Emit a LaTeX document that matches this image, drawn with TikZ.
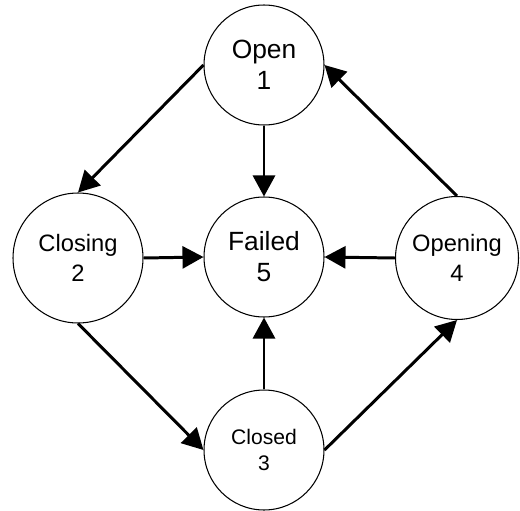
\documentclass[tikz,border=0pt]{standalone}
\usepackage{fontspec}
\setmainfont{Liberation Sans}
\usepackage{tikz}
\usetikzlibrary{arrows.meta, positioning}

\begin{document}
\begin{tikzpicture}[
    x=0.02cm, y=-0.02cm,
    statenode/.style={circle, draw=black, line width=0.6pt, fill=white, minimum size=2.4cm, inner sep=0pt, align=center},
    widenode/.style={statenode, minimum size=2.6cm},
    bigtext/.style={font=\fontsize{15}{17.6}\selectfont},
    midtext/.style={font=\fontsize{13.5}{17}\selectfont},
    smalltext/.style={font=\fontsize{12}{14.7}\selectfont},
    arrow/.style={-{Triangle[length=0.42cm, width=0.44cm]}, line width=1.7pt, draw=black}
]
\useasboundingbox (0,0) rectangle (520,510);

% States
\node[statenode, bigtext] (open) at (264,65) {Open\\1};
\node[widenode, midtext] (closing) at (78,258) {Closing\\2};
\node[statenode, bigtext] (failed) at (264,257) {Failed\\5};
\node[widenode, midtext, minimum size=2.46cm] (opening) at (457,258) {Opening\\4};
\node[statenode, smalltext] (closed) at (264,450) {Closed\\3};

% Cycle round the outside
\draw[arrow] (open.west) -- (closing.north);
\draw[arrow] (closing.south) -- (closed.west);
\draw[arrow] (closed.east) -- (opening.south);
\draw[arrow] (opening.north) -- (open.east);

% Into the failed state
\draw[arrow] (open.south) -- (failed.north);
\draw[arrow] (closing.east) -- (failed.west);
\draw[arrow] (opening.west) -- (failed.east);
\draw[arrow] (closed.north) -- (failed.south);

\end{tikzpicture}
\end{document}
